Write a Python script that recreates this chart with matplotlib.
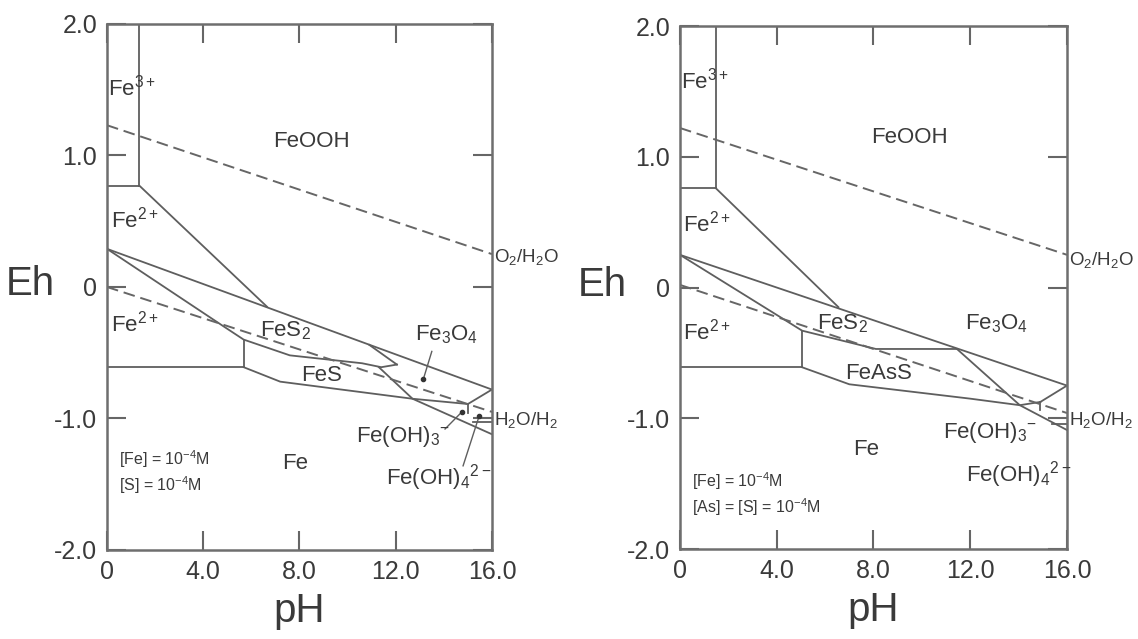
import matplotlib
matplotlib.use("Agg")
import matplotlib.pyplot as plt

plt.rcParams['font.family'] = ['Liberation Sans', 'DejaVu Sans']
plt.rcParams['mathtext.default'] = 'regular'

# ---- data: (pH list, Eh list) per boundary ----
xticks = [0, 4, 8, 12, 16]
xtick_labels = ['0', '4.0', '8.0', '12.0', '16.0']
yticks = [-2, -1, 0, 1, 2]
ytick_labels = ['-2.0', '-1.0', '0', '1.0', '2.0']

# left: Fe-S-H2O
left_ph = [
    [1.35, 1.35],
    [0, 1.35],
    [1.35, 6.65],
    [0, 16],
    [0, 4.85, 5.68, 7.6, 10.6, 11.4, 12.05],
    [10.9, 12.05],
    [5.68, 5.68],
    [0, 5.68],
    [5.68, 7.2, 12.7, 15.0],
    [11.3, 12.7, 16],
    [15.0, 16],
    [15.0, 15.0],
    [15.2, 16],
]
left_eh = [
    [2.0, 0.77],
    [0.77, 0.77],
    [0.77, -0.15],
    [0.29, -0.78],
    [0.29, -0.30, -0.40, -0.52, -0.58, -0.61, -0.59],
    [-0.44, -0.59],
    [-0.40, -0.61],
    [-0.61, -0.61],
    [-0.61, -0.72, -0.85, -0.89],
    [-0.61, -0.85, -1.12],
    [-0.89, -0.78],
    [-0.89, -0.96],
    [-1.03, -1.03],
]
left_o2 = ([0, 16], [1.23, 0.25])
left_h2 = ([0, 16], [0.0, -0.95])

# right: Fe-As-S-H2O
right_ph = [
    [1.48, 1.48],
    [0, 1.48],
    [1.48, 6.55],
    [0, 16],
    [0, 5.05, 8.1, 11.45],
    [5.05, 5.05],
    [0, 5.05],
    [5.05, 7.0, 12.0, 14.05, 14.9],
    [11.45, 14.05, 16],
    [14.9, 16],
    [14.9, 14.9],
    [15.4, 16],
]
right_eh = [
    [2.0, 0.76],
    [0.76, 0.76],
    [0.76, -0.15],
    [0.25, -0.75],
    [0.25, -0.33, -0.47, -0.47],
    [-0.33, -0.61],
    [-0.61, -0.61],
    [-0.61, -0.74, -0.85, -0.90, -0.875],
    [-0.47, -0.90, -1.09],
    [-0.875, -0.75],
    [-0.875, -0.94],
    [-1.04, -1.04],
]
right_o2 = ([0, 16], [1.22, 0.25])
right_h2 = ([0, 16], [0.02, -0.96])

# field labels: text, pH (centre), Eh
left_labels = [
    (r'Fe$^{3+}$', 1.05, 1.52),
    ('FeOOH', 8.5, 1.11),
    (r'Fe$^{2+}$', 1.15, 0.51),
    (r'Fe$^{2+}$', 1.15, -0.28),
    (r'FeS$_2$', 7.4, -0.33),
    ('FeS', 8.9, -0.67),
    ('Fe', 7.8, -1.34),
    (r'Fe$_3$O$_4$', 14.1, -0.36),
    (r'Fe(OH)$_3$$^{-}$', 12.3, -1.14),
    (r'Fe(OH)$_4$$^{2-}$', 13.8, -1.45),
]
right_labels = [
    (r'Fe$^{3+}$', 1.05, 1.58),
    ('FeOOH', 9.5, 1.15),
    (r'Fe$^{2+}$', 1.1, 0.49),
    (r'Fe$^{2+}$', 1.1, -0.34),
    (r'FeS$_2$', 6.7, -0.28),
    (r'Fe$_3$O$_4$', 13.1, -0.28),
    ('FeAsS', 8.2, -0.66),
    ('Fe', 7.7, -1.24),
    (r'Fe(OH)$_3$$^{-}$', 12.8, -1.11),
    (r'Fe(OH)$_4$$^{2-}$', 14.0, -1.43),
]
left_conc = [r'[Fe] = 10$^{-4}$M', r'[S] = 10$^{-4}$M']
right_conc = [r'[Fe] = 10$^{-4}$M', r'[As] = [S] = 10$^{-4}$M']

# arrows in left panel: label end -> dot
left_arrow_from = [(13.5, -0.49), (14.05, -1.08), (14.8, -1.36)]
left_arrow_to = [(13.15, -0.70), (14.75, -0.95), (15.47, -0.98)]

line_col = '#5e5e5e'
txt_col = '#3a3a3a'


def draw_panel(ax, phs, ehs, o2, h2, labels, conc, conc_eh, o2_eh, h2_eh):
    for x, y in zip(phs, ehs):
        ax.plot(x, y, color=line_col, lw=1.3, solid_joinstyle='miter')
    for x, y in (o2, h2):
        ax.plot(x, y, color='#666666', lw=1.4, dashes=(6, 3))
    for s, x, y in labels:
        ax.text(x, y, s, fontsize=16, color=txt_col, va='center', ha='center')
    ax.text(0.5, conc_eh, conc[0], fontsize=11.5, color=txt_col, va='center')
    ax.text(0.5, conc_eh - 0.2, conc[1], fontsize=11.5, color=txt_col, va='center')
    ax.text(16.1, o2_eh, r'O$_2$/H$_2$O', fontsize=13.5, color=txt_col,
            va='center', clip_on=False)
    ax.text(16.1, h2_eh, r'H$_2$O/H$_2$', fontsize=13.5, color=txt_col,
            va='center', clip_on=False)
    ax.set_xlim(0, 16)
    ax.set_ylim(-2, 2)
    ax.set_xticks(xticks)
    ax.set_xticklabels(xtick_labels)
    ax.set_yticks(yticks)
    ax.set_yticklabels(ytick_labels)
    ax.tick_params(direction='in', length=14, width=1.5, top=True, right=True,
                   labelsize=18, pad=7, color='#666666', labelcolor=txt_col)
    for sp in ax.spines.values():
        sp.set_color('#6e6e6e')
        sp.set_linewidth(1.8)
    ax.set_xlabel('pH', fontsize=29, color=txt_col, labelpad=6)
    ax.text(-0.2, 0.02, 'Eh', fontsize=29, color=txt_col, ha='center', va='center',
            transform=ax.get_yaxis_transform())


fig = plt.figure(figsize=(11.38, 6.39), dpi=100)
ax1 = fig.add_axes([0.0940, 0.1393, 0.3383, 0.8232])
ax2 = fig.add_axes([0.5975, 0.1408, 0.3401, 0.8185])

draw_panel(ax1, left_ph, left_eh, left_o2, left_h2, left_labels, left_conc,
           -1.31, 0.23, -1.01)
draw_panel(ax2, right_ph, right_eh, right_o2, right_h2, right_labels, right_conc,
           -1.48, 0.21, -1.01)

for (x0, y0), (x1, y1) in zip(left_arrow_from, left_arrow_to):
    ax1.plot([x0, x1], [y0, y1], color=line_col, lw=1.0)
    ax1.plot(x1, y1, 'o', color='#333333', ms=3)

fig.savefig('out.png', dpi=100)
